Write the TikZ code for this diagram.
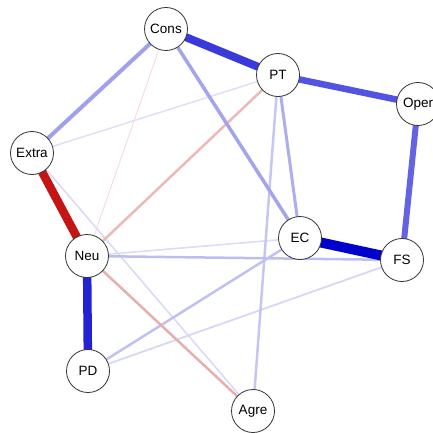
\documentclass[tikz,border=0pt]{standalone}
\usepackage{fontspec}
\setmainfont{Liberation Sans}
\usetikzlibrary{backgrounds}
\definecolor{eECFS}{HTML}{0000CC}
\definecolor{eNeuPD}{HTML}{2222D4}
\definecolor{eConsPT}{HTML}{3A3ADC}
\definecolor{ePTOper}{HTML}{5353E2}
\definecolor{eOperFS}{HTML}{6464E2}
\definecolor{eExtraNeu}{HTML}{C41414}
\definecolor{eConsExtra}{HTML}{A0A0EE}
\definecolor{eConsEC}{HTML}{A4A4EE}
\definecolor{ePTEC}{HTML}{ADADF0}
\definecolor{ePTAgre}{HTML}{C6C6F5}
\definecolor{eNeuFS}{HTML}{BDBDF3}
\definecolor{ePDEC}{HTML}{C0C0F4}
\definecolor{eNeuPT}{HTML}{EEB8B8}
\definecolor{eNeuAgre}{HTML}{E8AEAE}
\definecolor{eNeuEC}{HTML}{DCDCFA}
\definecolor{ePDFS}{HTML}{D6D6F8}
\definecolor{eExtraPT}{HTML}{DEDEFA}
\definecolor{eExtraAgre}{HTML}{D8D8F8}
\definecolor{eConsNeu}{HTML}{F8DCDC}
\definecolor{nodeborder}{HTML}{333333}
\tikzset{
  vnode/.style={circle, draw=nodeborder, line width=0.8pt, fill=white,
    minimum size=43pt, inner sep=0pt, font=\fontsize{13.5}{15}\selectfont},
  edge/.style={line cap=butt}
}
\begin{document}
\begin{tikzpicture}[x=1pt,y=-1pt]
\useasboundingbox (0,0) rectangle (432,433);
% nodes
\node[vnode] (Cons)  at (166,29)  {Cons};
\node[vnode] (PT)    at (278,75)  {PT};
\node[vnode] (Oper)  at (418,104) {Oper};
\node[vnode] (Extra) at (32,153)  {Extra};
\node[vnode] (EC)    at (300,238) {EC};
\node[vnode] (FS)    at (402,260) {FS};
\node[vnode] (Neu)   at (87,256)  {Neu};
\node[vnode] (PD)    at (88,371)  {PD};
\node[vnode] (Agre)  at (253,411) {Agre};
% edges (light first), behind nodes, centre to centre
\begin{pgfonlayer}{background}
\draw[edge, eConsNeu, line width=1pt] (Cons.center) -- (Neu.center);
\draw[edge, eExtraPT, line width=1.5pt] (Extra.center) -- (PT.center);
\draw[edge, eExtraAgre, line width=1.5pt] (Extra.center) -- (Agre.center);
\draw[edge, eNeuEC, line width=1.6pt] (Neu.center) -- (EC.center);
\draw[edge, ePDFS, line width=1.8pt] (PD.center) -- (FS.center);
\draw[edge, ePTAgre, line width=2.5pt] (PT.center) -- (Agre.center);
\draw[edge, eNeuFS, line width=2.5pt] (Neu.center) -- (FS.center);
\draw[edge, ePDEC, line width=2.5pt] (PD.center) -- (EC.center);
\draw[edge, eNeuPT, line width=2.5pt] (Neu.center) -- (PT.center);
\draw[edge, eNeuAgre, line width=2.5pt] (Neu.center) -- (Agre.center);
\draw[edge, ePTEC, line width=3pt] (PT.center) -- (EC.center);
\draw[edge, eConsEC, line width=3.5pt] (Cons.center) -- (EC.center);
\draw[edge, eConsExtra, line width=4pt] (Cons.center) -- (Extra.center);
\draw[edge, eOperFS, line width=6pt] (Oper.center) -- (FS.center);
\draw[edge, ePTOper, line width=6.5pt] (PT.center) -- (Oper.center);
\draw[edge, eConsPT, line width=8pt] (Cons.center) -- (PT.center);
\draw[edge, eExtraNeu, line width=8.5pt] (Extra.center) -- (Neu.center);
\draw[edge, eNeuPD, line width=8.5pt] (Neu.center) -- (PD.center);
\draw[edge, eECFS, line width=10pt] (EC.center) -- (FS.center);
\end{pgfonlayer}
\end{tikzpicture}
\end{document}
